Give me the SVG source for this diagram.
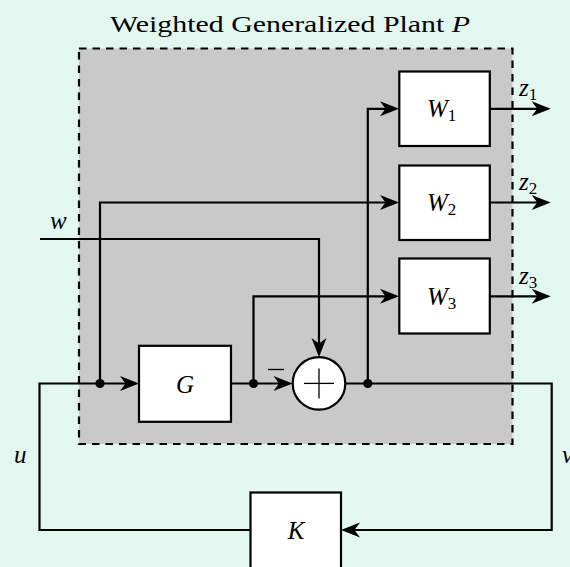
<svg xmlns="http://www.w3.org/2000/svg" width="570" height="567" viewBox="0 0 570 567">
<style>
.bg{fill:#e3f7f1}
.plant{fill:#c9c9c9;stroke:#000;stroke-width:2.2;stroke-dasharray:7.5 6}
.box{fill:#fff;stroke:#000;stroke-width:2.2}
.wire{fill:none;stroke:#000;stroke-width:2.2;stroke-linejoin:miter}
.thin{fill:none;stroke:#000;stroke-width:1.3}
.dot{fill:#000}
.t{font-family:"Liberation Serif","Times New Roman",serif;font-size:23px;fill:#000}
.m{font-family:"Liberation Serif","Times New Roman",serif;font-size:25px;font-style:italic;fill:#000}
.sub{font-style:normal;font-size:17px}
</style>
<defs>
<marker id="arr" markerUnits="userSpaceOnUse" markerWidth="24" markerHeight="20" viewBox="-20 -10 24 20" refX="-3" refY="0" orient="auto" overflow="visible">
<path d="M0,0 L-19,-7.5 L-13.5,0 L-19,7.5 Z" fill="#000"/>
</marker>
</defs>
<rect class="bg" x="0" y="0" width="570" height="567"/>
<text class="t" x="110" y="31.5" textLength="360" lengthAdjust="spacingAndGlyphs">Weighted Generalized Plant <tspan font-style="italic">P</tspan></text>
<g id="plant"><rect class="plant" x="79" y="48.5" width="433.5" height="395.5"/></g>

<g id="connectors">
<path class="wire" marker-end="url(#arr)" d="M250.5,530 H39.5 V383.5 H136"/>
<path class="wire" marker-end="url(#arr)" d="M231,383.5 H289.5"/>
<path class="wire" marker-end="url(#arr)" d="M40,239 H319 V354"/>
<path class="wire" marker-end="url(#arr)" d="M367.8,383.5 V108.8 H396"/>
<path class="wire" marker-end="url(#arr)" d="M100,383.5 V202.5 H396"/>
<path class="wire" marker-end="url(#arr)" d="M253.5,383.5 V296.3 H396"/>
<path class="wire" marker-end="url(#arr)" d="M490,108.8 H547.7"/>
<path class="wire" marker-end="url(#arr)" d="M490,202.5 H547.7"/>
<path class="wire" marker-end="url(#arr)" d="M490,296.3 H547.7"/>
<path class="wire" marker-end="url(#arr)" d="M345.5,383.5 H551.7 V530 H344"/>
<circle class="dot" cx="100" cy="383.5" r="4.6"/>
<circle class="dot" cx="253.5" cy="383.5" r="4.6"/>
<circle class="dot" cx="367.8" cy="383.5" r="4.6"/>
<line class="thin" x1="268" y1="369.5" x2="284" y2="369.5"/>
</g>

<g id="G"><rect class="box" x="139" y="345.8" width="92" height="76"/><text class="m" x="185" y="393" text-anchor="middle">G</text></g>
<g id="sum"><circle class="box" cx="319" cy="383.4" r="26.3"/><line class="thin" x1="304" y1="383.4" x2="334" y2="383.4"/><line class="thin" x1="319" y1="368.4" x2="319" y2="398.4"/></g>
<g id="W1"><rect class="box" x="399.3" y="71.5" width="90.5" height="74.5"/><text class="m" x="427" y="117">W<tspan class="sub" dy="4">1</tspan></text></g>
<g id="W2"><rect class="box" x="399.3" y="165.5" width="90.5" height="74.5"/><text class="m" x="427" y="211">W<tspan class="sub" dy="4">2</tspan></text></g>
<g id="W3"><rect class="box" x="399.3" y="258.5" width="90.5" height="75"/><text class="m" x="427" y="305">W<tspan class="sub" dy="4">3</tspan></text></g>
<g id="K"><rect class="box" x="250.5" y="492.5" width="90.5" height="76"/><text class="m" x="296" y="539" text-anchor="middle">K</text></g>

<g id="labels">
<text class="m" x="50" y="229">w</text>
<text class="m" x="519" y="96">z<tspan class="sub" dy="4">1</tspan></text>
<text class="m" x="519" y="190">z<tspan class="sub" dy="4">2</tspan></text>
<text class="m" x="519" y="284">z<tspan class="sub" dy="4">3</tspan></text>
<text class="m" x="14" y="463">u</text>
<text class="m" x="562" y="463">v</text>
</g>
</svg>
